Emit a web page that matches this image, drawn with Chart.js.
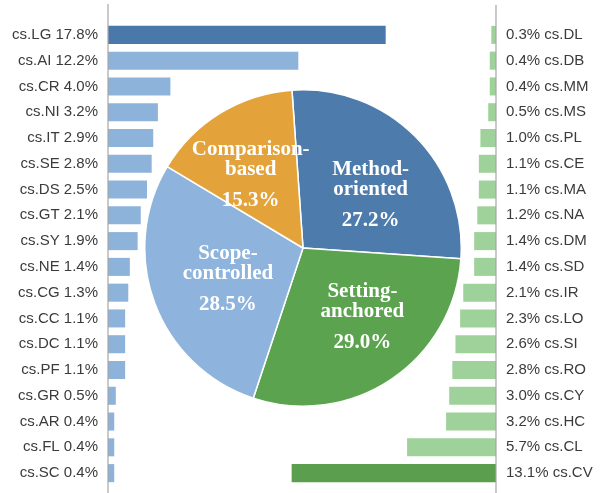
<!DOCTYPE html>
<html>
<head>
<meta charset="utf-8">
<script src="https://cdn.jsdelivr.net/npm/chart.js@4.4.1/dist/chart.umd.min.js"></script>
<style>
  body { margin: 0; background: #fff; }
  #wrap { position: relative; width: 603px; height: 493px; }
  canvas { position: absolute; }
</style>
</head>
<body>
<div id="wrap">
  <canvas id="leftBars" width="603" height="493" style="left:0;top:0"></canvas>
  <canvas id="rightBars" width="603" height="493" style="left:0;top:0"></canvas>
  <canvas id="pie" width="318" height="318" style="left:144px;top:89px"></canvas>
</div>
<script>
// left side: categories and share (%)
const leftCodes = ["cs.LG", "cs.AI", "cs.CR", "cs.NI", "cs.IT", "cs.SE", "cs.DS", "cs.GT", "cs.SY",
  "cs.NE", "cs.CG", "cs.CC", "cs.DC", "cs.PF", "cs.GR", "cs.AR", "cs.FL", "cs.SC"];
const leftValues = [17.8, 12.2, 4.0, 3.2, 2.9, 2.8, 2.5, 2.1, 1.9, 1.4, 1.3, 1.1, 1.1, 1.1, 0.5, 0.4, 0.4, 0.4];

// right side
const rightCodes = ["cs.DL", "cs.DB", "cs.MM", "cs.MS", "cs.PL", "cs.CE", "cs.MA", "cs.NA", "cs.DM",
  "cs.SD", "cs.IR", "cs.LO", "cs.SI", "cs.RO", "cs.CY", "cs.HC", "cs.CL", "cs.CV"];
const rightValues = [0.3, 0.4, 0.4, 0.5, 1.0, 1.1, 1.1, 1.2, 1.4, 1.4, 2.1, 2.3, 2.6, 2.8, 3.0, 3.2, 5.7, 13.1];

// pie
const pieLabels = [["Method-", "oriented"], ["Setting-", "anchored"], ["Scope-", "controlled"], ["Comparison-", "based"]];
const pieValues = [27.2, 29.0, 28.5, 15.3];

const labelFont = { family: "'Liberation Sans', Arial, sans-serif", size: 15 };
const labelColor = "#3b3b3b";

// draws the vertical axis line a bit longer than the bar area
const axisLine = {
  id: "axisLine",
  afterDraw(chart, args, opts) {
    const c = chart.ctx;
    const x = opts.side === "left" ? chart.chartArea.left : chart.chartArea.right;
    c.save();
    c.strokeStyle = "#a6a6a6";
    c.lineWidth = 1.2;
    c.beginPath();
    c.moveTo(x, opts.top);
    c.lineTo(x, chart.height);
    c.stroke();
    c.restore();
  }
};

function fixAxis(w) {
  return function (scale) {
    scale.width = w;
    scale.paddingTop = 0;
    scale.paddingBottom = 0;
  };
}

new Chart(document.getElementById("leftBars"), {
  type: "bar",
  data: {
    labels: leftCodes.map((c, i) => c + " " + leftValues[i].toFixed(1) + "%"),
    datasets: [{
      data: leftValues,
      backgroundColor: leftValues.map((v, i) => i === 0 ? "#4a78aa" : "#8db3db"),
      barPercentage: 0.7,
      categoryPercentage: 1
    }]
  },
  options: {
    indexAxis: "y",
    responsive: false,
    animation: false,
    layout: { padding: { top: 22, bottom: 7, right: 183, left: 0 } },
    plugins: { legend: { display: false }, tooltip: { enabled: false }, axisLine: { side: "left", top: 4 } },
    scales: {
      x: { display: false, min: 0, max: 20 },
      y: {
        grid: { display: false, drawTicks: false },
        border: { display: false },
        ticks: { font: labelFont, color: labelColor, padding: 10 },
        afterFit: fixAxis(108)
      }
    }
  },
  plugins: [axisLine]
});

new Chart(document.getElementById("rightBars"), {
  type: "bar",
  data: {
    labels: rightCodes.map((c, i) => rightValues[i].toFixed(1) + "% " + c),
    datasets: [{
      data: rightValues,
      backgroundColor: rightValues.map((v, i) => i === rightValues.length - 1 ? "#5a9e4e" : "#9fd29a"),
      barPercentage: 0.7,
      categoryPercentage: 1
    }]
  },
  options: {
    indexAxis: "y",
    responsive: false,
    animation: false,
    layout: { padding: { top: 22, bottom: 7, left: 184, right: 0 } },
    plugins: { legend: { display: false }, tooltip: { enabled: false }, axisLine: { side: "right", top: 5 } },
    scales: {
      x: { display: false, min: 0, max: 20, reverse: true },
      y: {
        position: "right",
        grid: { display: false, drawTicks: false },
        border: { display: false },
        ticks: { font: labelFont, color: labelColor, padding: 10 },
        afterFit: fixAxis(107)
      }
    }
  },
  plugins: [axisLine]
});

// white bold labels inside the slices (small nudges so they sit like the original)
const nudge = [[5, 9], [10, -5], [8, 0], [-6, 2]];
const sliceText = {
  id: "sliceText",
  afterDatasetsDraw(chart) {
    const c = chart.ctx;
    const arcs = chart.getDatasetMeta(0).data;
    c.save();
    c.fillStyle = "#fff";
    c.font = "bold 21px 'Liberation Serif', 'Times New Roman', serif";
    c.textAlign = "center";
    c.textBaseline = "middle";
    arcs.forEach((arc, i) => {
      const mid = (arc.startAngle + arc.endAngle) / 2;
      const px = arc.x + Math.cos(mid) * arc.outerRadius * 0.56 + nudge[i][0];
      const py = arc.y + Math.sin(mid) * arc.outerRadius * 0.56 + nudge[i][1];
      const lines = pieLabels[i];
      const h = (lines.length - 1) * 20 + 30;
      let y = py - h / 2;
      lines.forEach((t, k) => c.fillText(t, px, y + k * 20));
      c.fillText(pieValues[i].toFixed(1) + "%", px, y + (lines.length - 1) * 20 + 31);
    });
    c.restore();
  }
};

new Chart(document.getElementById("pie"), {
  type: "pie",
  data: {
    labels: pieLabels.map(l => l.join("")),
    datasets: [{
      data: pieValues,
      backgroundColor: ["#4c7bac", "#5ba34f", "#8eb4dd", "#e3a33a"],
      borderColor: "#fff",
      borderWidth: 1.5,
      hoverOffset: 0
    }]
  },
  options: {
    responsive: false,
    animation: false,
    rotation: -4,
    layout: { padding: 0 },
    plugins: { legend: { display: false }, tooltip: { enabled: false } }
  },
  plugins: [sliceText]
});
</script>
</body>
</html>
